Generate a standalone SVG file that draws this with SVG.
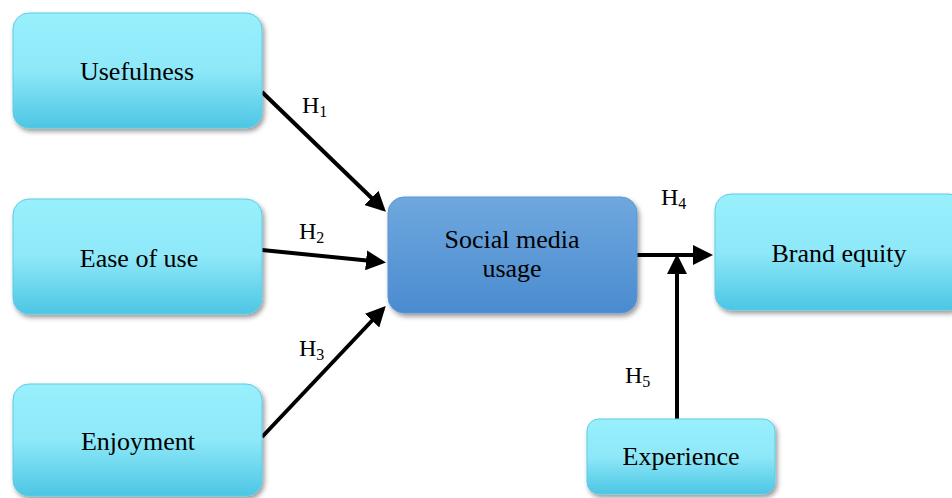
<svg xmlns="http://www.w3.org/2000/svg" width="952" height="498" viewBox="0 0 952 498" font-family="'Liberation Serif', 'DejaVu Serif', serif">
<defs>
<linearGradient id="cyan" x1="0" y1="0" x2="0" y2="1">
<stop offset="0" stop-color="#98f0fc"/>
<stop offset="0.5" stop-color="#8ee8f8"/>
<stop offset="1" stop-color="#4cc6e4"/>
</linearGradient>
<linearGradient id="blue" x1="0" y1="0" x2="0" y2="1">
<stop offset="0" stop-color="#6fa8de"/>
<stop offset="1" stop-color="#4a8bd0"/>
</linearGradient>
<filter id="sh" x="-10%" y="-10%" width="125%" height="130%">
<feDropShadow dx="2" dy="3" stdDeviation="2.5" flood-color="#000" flood-opacity="0.4"/>
</filter>
<marker id="ah" markerWidth="5" markerHeight="5" refX="4" refY="2.5" orient="auto" markerUnits="strokeWidth">
<path d="M0,0 L5,2.5 L0,5 z" fill="#000"/>
</marker>
</defs>
<style>
.c{fill:url(#cyan);stroke:#5ccbe6;stroke-width:1;filter:url(#sh)}
.b{fill:url(#blue);stroke:#5a95d4;stroke-width:1;filter:url(#sh)}
text{font-family:'Liberation Serif','DejaVu Serif',serif;font-size:26px;fill:#000}
.h{font-size:24px}
.s{font-size:16px}
.t{text-anchor:middle}
.l{stroke:#000;stroke-width:4;fill:none}
</style>
<g id="connectors">
<line class="l" x1="262" y1="92" x2="383" y2="209" marker-end="url(#ah)"/>
<line class="l" x1="262" y1="250" x2="382" y2="262" marker-end="url(#ah)"/>
<line class="l" x1="262" y1="437" x2="383" y2="309" marker-end="url(#ah)"/>
<line class="l" x1="637" y1="255" x2="709" y2="255" marker-end="url(#ah)"/>
<line class="l" x1="677" y1="419" x2="677" y2="258" marker-end="url(#ah)"/>
<text class="h" x="302" y="113">H<tspan class="s" dy="4">1</tspan></text>
<text class="h" x="299" y="239">H<tspan class="s" dy="4">2</tspan></text>
<text class="h" x="299" y="356">H<tspan class="s" dy="4">3</tspan></text>
<text class="h" x="661" y="205">H<tspan class="s" dy="4">4</tspan></text>
<text class="h" x="625" y="383">H<tspan class="s" dy="4">5</tspan></text>
</g>
<g id="usefulness">
<rect class="c" x="13" y="13" width="249" height="115" rx="16"/>
<text class="t" x="137" y="80">Usefulness</text>
</g>
<g id="ease">
<rect class="c" x="13" y="199" width="249" height="115" rx="16"/>
<text class="t" x="139" y="267">Ease of use</text>
</g>
<g id="enjoyment">
<rect class="c" x="13" y="384" width="249" height="112" rx="16"/>
<text class="t" x="138" y="450">Enjoyment</text>
</g>
<g id="social">
<rect class="b" x="388" y="197" width="249" height="116" rx="16"/>
<text class="t" x="512" y="248">Social media</text>
<text class="t" x="512" y="277">usage</text>
</g>
<g id="brand">
<rect class="c" x="715" y="194" width="250" height="116" rx="16"/>
<text class="t" x="839" y="262">Brand equity</text>
</g>
<g id="experience">
<rect class="c" x="587" y="419" width="188" height="75" rx="12"/>
<text class="t" x="681" y="465">Experience</text>
</g>
</svg>
